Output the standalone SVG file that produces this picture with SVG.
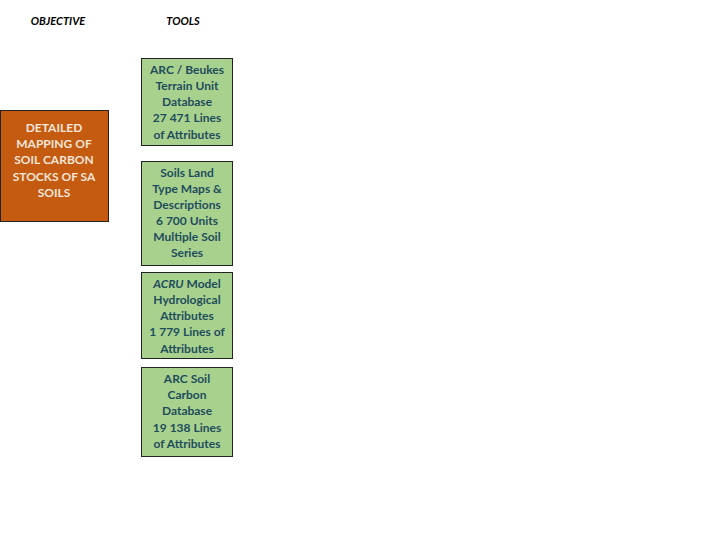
<svg xmlns="http://www.w3.org/2000/svg" width="720" height="540" viewBox="0 0 720 540">
<style>
text{font-family:Lato,"Open Sans","Liberation Sans",sans-serif;font-size:12px;font-weight:bold;text-anchor:middle}
.hdr{font-style:italic;fill:#000;font-size:11px}
.obj{fill:#C55A11;stroke:#222;stroke-width:1}
.objt{fill:#F2E6D9}
.tool{fill:#A9D18E;stroke:#222;stroke-width:1}
.toolt{fill:#1E4D5C}
</style>
<rect width="720" height="540" fill="#fff"/>
<g id="headers">
<text class="hdr" x="58" y="25">OBJECTIVE</text>
<text class="hdr" x="183" y="25">TOOLS</text>
</g>
<g id="objective">
<rect class="obj" x="0.5" y="110.5" width="108" height="111"/>
<text class="objt" x="54" y="132">DETAILED</text>
<text class="objt" x="54" y="148">MAPPING OF</text>
<text class="objt" x="54" y="164">SOIL CARBON</text>
<text class="objt" x="54" y="181">STOCKS OF SA</text>
<text class="objt" x="54" y="197">SOILS</text>
</g>
<g id="tool1">
<rect class="tool" x="141.5" y="58.5" width="91" height="87"/>
<text class="toolt" x="187" y="74">ARC / Beukes</text>
<text class="toolt" x="187" y="90">Terrain Unit</text>
<text class="toolt" x="187" y="106">Database</text>
<text class="toolt" x="187" y="122">27 471 Lines</text>
<text class="toolt" x="187" y="139">of Attributes</text>
</g>
<g id="tool2">
<rect class="tool" x="141.5" y="161.5" width="91" height="104"/>
<text class="toolt" x="187" y="177">Soils Land</text>
<text class="toolt" x="187" y="193">Type Maps &amp;</text>
<text class="toolt" x="187" y="209">Descriptions</text>
<text class="toolt" x="187" y="225">6 700 Units</text>
<text class="toolt" x="187" y="241">Multiple Soil</text>
<text class="toolt" x="187" y="257">Series</text>
</g>
<g id="tool3">
<rect class="tool" x="141.5" y="272.5" width="91" height="86"/>
<text class="toolt" x="187" y="288"><tspan font-style="italic">ACRU</tspan> Model</text>
<text class="toolt" x="187" y="304">Hydrological</text>
<text class="toolt" x="187" y="320">Attributes</text>
<text class="toolt" x="187" y="336">1 779 Lines of</text>
<text class="toolt" x="187" y="353">Attributes</text>
</g>
<g id="tool4">
<rect class="tool" x="141.5" y="367.5" width="91" height="89"/>
<text class="toolt" x="187" y="383">ARC Soil</text>
<text class="toolt" x="187" y="399">Carbon</text>
<text class="toolt" x="187" y="415">Database</text>
<text class="toolt" x="187" y="432">19 138 Lines</text>
<text class="toolt" x="187" y="448">of Attributes</text>
</g>
<g id="connectors"></g>
</svg>
